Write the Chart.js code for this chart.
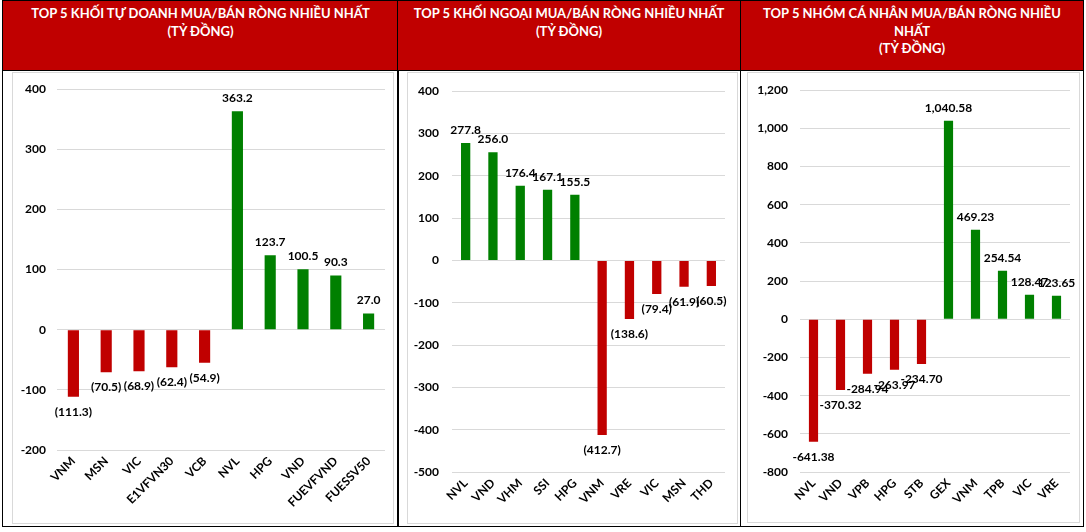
<!DOCTYPE html>
<html>
<head>
<meta charset="utf-8">
<script src="https://cdn.jsdelivr.net/npm/chart.js@4"></script>
<style>
  html,body{margin:0;padding:0;background:#fff;}
  body{width:1086px;height:532px;position:relative;overflow:hidden;font-family:Lato,"Noto Sans",sans-serif;}
  .panel{position:absolute;top:0;height:527px;border:1px solid #000;box-sizing:border-box;}
  .head{position:absolute;left:0;top:0;right:0;height:70px;background:#C00000;border-bottom:1px solid #000;
        color:#fff;font-weight:bold;font-size:13px;line-height:17.5px;text-align:center;padding-top:4px;box-sizing:border-box;}
  .area{position:absolute;border:1px solid #d9d9d9;box-sizing:border-box;}
  canvas{position:absolute;}
</style>
</head>
<body>
<div class="panel" style="left:2px;width:397px;"><div class="head">TOP 5 KHỐI TỰ DOANH MUA/BÁN RÒNG NHIỀU NHẤT<br>(TỶ ĐỒNG)</div></div>
<div class="panel" style="left:397px;width:344px;"><div class="head">TOP 5 KHỐI NGOẠI MUA/BÁN RÒNG NHIỀU NHẤT<br>(TỶ ĐỒNG)</div></div>
<div class="panel" style="left:740px;width:344px;"><div class="head">TOP 5 NHÓM CÁ NHÂN MUA/BÁN RÒNG NHIỀU<br>NHẤT<br>(TỶ ĐỒNG)</div></div>
<div class="area" style="left:12px;top:72px;width:382px;height:452px;"></div>
<div class="area" style="left:407px;top:72px;width:331px;height:452px;"></div>
<div class="area" style="left:747px;top:72px;width:333px;height:451px;"></div>
<canvas id="c1" width="394" height="456" style="left:3px;top:71px;"></canvas>
<canvas id="c2" width="342" height="456" style="left:398px;top:71px;"></canvas>
<canvas id="c3" width="342" height="456" style="left:740px;top:71px;"></canvas>
<script>
// ---- Data ----
const tuDoanhLabels = ["VNM","MSN","VIC","E1VFVN30","VCB","NVL","HPG","VND","FUEVFVND","FUESSV50"];
const tuDoanhValues = [-111.3,-70.5,-68.9,-62.4,-54.9,363.2,123.7,100.5,90.3,27.0];
const tuDoanhTicks = {min:-200,max:400,step:100};

const khoiNgoaiLabels = ["NVL","VND","VHM","SSI","HPG","VNM","VRE","VIC","MSN","THD"];
const khoiNgoaiValues = [277.8,256.0,176.4,167.1,155.5,-412.7,-138.6,-79.4,-61.9,-60.5];
const khoiNgoaiTicks = {min:-500,max:400,step:100};

const caNhanLabels = ["NVL","VND","VPB","HPG","STB","GEX","VNM","TPB","VIC","VRE"];
const caNhanValues = [-641.38,-370.32,-284.94,-263.97,-234.70,1040.58,469.23,254.54,128.47,123.65];
const caNhanTicks = {min:-800,max:1200,step:200};

const RED = "#C00000", GREEN = "#008000";
const FONT = "Lato, 'Noto Sans', sans-serif";

function withCommas(s){
  const neg = s[0]==='-'; if(neg) s=s.slice(1);
  const parts = s.split('.');
  parts[0] = parts[0].replace(/\B(?=(\d{3})+(?!\d))/g, ',');
  return (neg?'-':'') + parts.join('.');
}
function fmtParen(v){ return v<0 ? '(' + Math.abs(v).toFixed(1) + ')' : v.toFixed(1); }
function fmtComma2(v){ return withCommas(v.toFixed(2)); }

const labelPlugin = {
  id:'valueLabels',
  afterDatasetsDraw(chart, args, opts){
    const ctx = chart.ctx;
    const ds = chart.data.datasets[0];
    const meta = chart.getDatasetMeta(0);
    ctx.save();
    ctx.font = "bold 12px " + FONT;
    ctx.fillStyle = "#000";
    ctx.textAlign = "center";
    ctx.textBaseline = "middle";
    meta.data.forEach((bar,i)=>{
      const v = ds.data[i];
      const y = v>=0 ? bar.y - 13 : bar.y + 15;
      ctx.fillText(opts.fmt(v), bar.x, y);
    });
    ctx.restore();
  }
};

function makeChart(id, labels, values, ticks, cfg){
  new Chart(document.getElementById(id), {
    type:'bar',
    data:{labels:labels, datasets:[{data:values,
      backgroundColor: values.map(v=>v<0?RED:GREEN),
      barPercentage:0.34, categoryPercentage:1.0}]},
    options:{
      responsive:false, animation:false,
      layout:{padding:{top:cfg.top,right:cfg.right,left:0,bottom:0}},
      plugins:{legend:{display:false}, tooltip:{enabled:false}, valueLabels:{fmt:cfg.fmt}},
      scales:{
        x:{grid:{display:false,drawTicks:false}, border:{display:false},
           ticks:{minRotation:45,maxRotation:45,autoSkip:false,padding:4,color:"#000",
                  font:{family:FONT,size:12,weight:'bold'}},
           afterFit(s){ s.height = cfg.xh; }},
        y:{min:ticks.min,max:ticks.max,
           grid:{color:"#d9d9d9",drawTicks:false}, border:{display:false},
           ticks:{stepSize:ticks.step,padding:cfg.ypad,color:"#000",
                  font:{family:FONT,size:12,weight:'bold'},
                  callback:v=>withCommas(String(v))},
           afterFit(s){ s.width = cfg.yw; }}
      }
    },
    plugins:[labelPlugin]
  });
}

makeChart('c1', tuDoanhLabels, tuDoanhValues, tuDoanhTicks, {top:16, right:12, xh:77, yw:54, ypad:11, fmt:fmtParen});
makeChart('c2', khoiNgoaiLabels, khoiNgoaiValues, khoiNgoaiTicks, {top:16, right:15, xh:55, yw:54, ypad:13, fmt:fmtParen});
makeChart('c3', caNhanLabels, caNhanValues, caNhanTicks, {top:16, right:12, xh:55, yw:60, ypad:12, fmt:fmtComma2});
</script>
</body>
</html>
